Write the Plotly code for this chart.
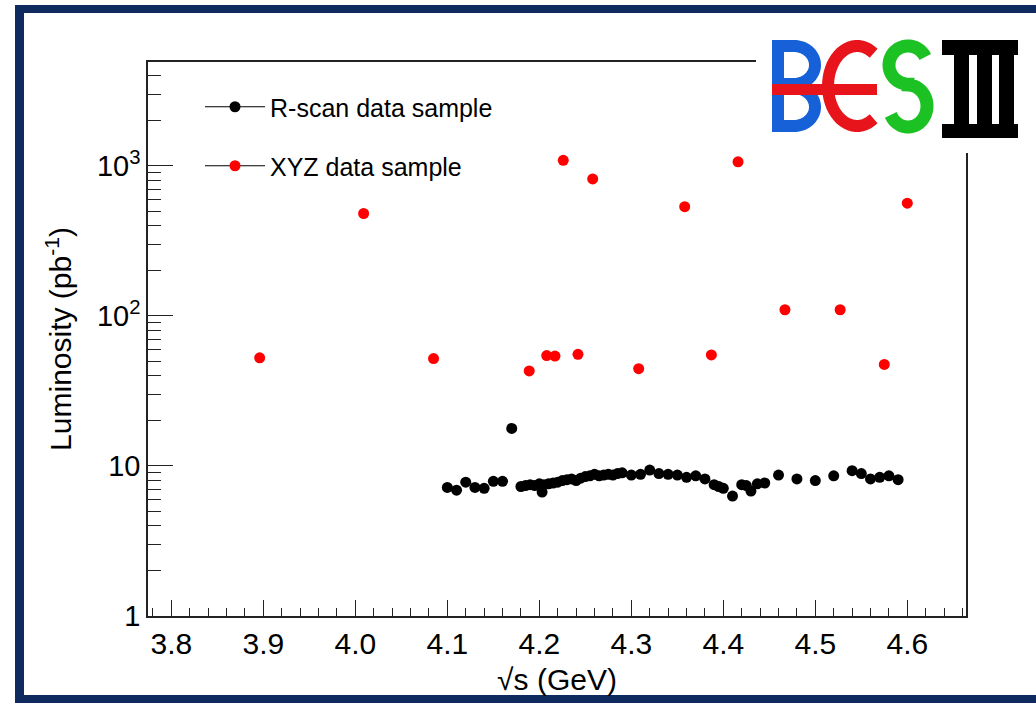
import math
import plotly.graph_objects as go

# ---------------- data ----------------
xyz_energy = [3.896, 4.009, 4.085, 4.189, 4.208, 4.217, 4.226, 4.242, 4.258, 4.308,
              4.358, 4.387, 4.416, 4.467, 4.527, 4.575, 4.600]
xyz_lumi = [52.6, 482, 52.0, 43.0, 54.5, 54.0, 1090, 55.5, 820, 44.5,
            535, 55.0, 1065, 110, 110, 47.5, 565]

rscan_energy = [4.100, 4.110, 4.120, 4.130, 4.140, 4.150, 4.160, 4.170,
                4.180, 4.185, 4.190, 4.195, 4.200, 4.203, 4.205, 4.210, 4.215, 4.220,
                4.225, 4.230, 4.235, 4.240, 4.245, 4.250, 4.255, 4.260, 4.265, 4.270,
                4.275, 4.280, 4.285, 4.290, 4.300, 4.310, 4.320, 4.330, 4.340, 4.350,
                4.360, 4.370, 4.380, 4.390, 4.395, 4.400, 4.410, 4.420, 4.425, 4.430,
                4.437, 4.445, 4.460, 4.480, 4.500, 4.520, 4.540, 4.550, 4.560, 4.570,
                4.580, 4.590]
rscan_lumi = [7.2, 6.9, 7.8, 7.2, 7.1, 7.9, 7.9, 17.8,
              7.3, 7.4, 7.5, 7.4, 7.6, 6.7, 7.5, 7.6, 7.7, 7.8,
              8.0, 8.1, 8.2, 8.0, 8.3, 8.5, 8.6, 8.8, 8.6, 8.7,
              8.8, 8.7, 8.9, 9.0, 8.7, 8.8, 9.4, 8.9, 8.8, 8.7,
              8.4, 8.6, 8.2, 7.5, 7.3, 7.1, 6.3, 7.5, 7.4, 6.8,
              7.6, 7.7, 8.7, 8.2, 8.0, 8.6, 9.3, 8.9, 8.2, 8.4,
              8.6, 8.1]

series_names = ["R-scan data sample", "XYZ data sample"]
x_tick_labels = ["3.8", "3.9", "4.0", "4.1", "4.2", "4.3", "4.4", "4.5", "4.6"]
x_tick_values = [3.8, 3.9, 4.0, 4.1, 4.2, 4.3, 4.4, 4.5, 4.6]
y_tick_values = [1, 10, 100, 1000]
y_tick_labels = ["1", "10", "10<sup>2</sup>", "10<sup>3</sup>"]

# ---------------- geometry helpers (pixel -> paper) ----------------
W, H = 1036, 707
L_PX, R_PX, T_PX, B_PX = 148, 966, 62, 616
PW, PH = R_PX - L_PX, B_PX - T_PX


def px(x):
    return (x - L_PX) / PW


def py(y):
    return (B_PX - y) / PH


def rect(x0, y0, x1, y1, color):
    return dict(type="rect", xref="paper", yref="paper", layer="above",
                x0=px(x0), x1=px(x1), y0=py(y1), y1=py(y0),
                fillcolor=color, line=dict(width=0))


def poly(points, color, width):
    d = "M " + " L ".join(f"{px(a):.5f},{py(b):.5f}" for a, b in points)
    return dict(type="path", xref="paper", yref="paper", layer="above", path=d,
                line=dict(color=color, width=width), fillcolor="rgba(0,0,0,0)")


def arc(cx, cy, rx, ry, a0, a1, n=40):
    pts = []
    for i in range(n + 1):
        t = math.radians(a0 + (a1 - a0) * i / n)
        pts.append((cx + rx * math.cos(t), cy - ry * math.sin(t)))
    return pts


FONT = "Liberation Sans, Arial, sans-serif"
NAVY = "#0f2a5f"
BLUE = "#1660d8"
RED = "#e8141c"
GREEN = "#1cc224"

fig = go.Figure()

# data traces
fig.add_trace(go.Scatter(x=rscan_energy, y=rscan_lumi, mode="markers",
                         marker=dict(color="black", size=11), showlegend=False,
                         name=series_names[0]))
fig.add_trace(go.Scatter(x=xyz_energy, y=xyz_lumi, mode="markers",
                         marker=dict(color="#ff0000", size=11), showlegend=False,
                         name=series_names[1]))
# legend entries (ROOT style: line + marker)
fig.add_trace(go.Scatter(x=[None], y=[None], mode="lines+markers", name=series_names[0],
                         line=dict(color="black", width=1.2),
                         marker=dict(color="black", size=11), legend="legend"))
fig.add_trace(go.Scatter(x=[None], y=[None], mode="lines+markers", name=series_names[1],
                         line=dict(color="black", width=1.2),
                         marker=dict(color="#ff0000", size=11), legend="legend2"))

shapes = []
# navy slide frame
shapes.append(rect(15, 5, 1036, 13, NAVY))
shapes.append(rect(15, 5, 24, 703, NAVY))
shapes.append(rect(15, 695, 1036, 703, NAVY))
# white box behind logo
shapes.append(rect(756, 14, 1036, 153, "white"))
# B
shapes.append(rect(772, 40, 784, 132, BLUE))
shapes.append(poly([(778, 46), (794, 46)] + arc(794, 65, 21, 19, 90, -90) + [(778, 84)], BLUE, 12))
shapes.append(poly([(778, 88), (794, 88)] + arc(794, 107, 21, 19, 90, -90) + [(778, 126)], BLUE, 12))
# red C-like E with bar
shapes.append(poly(arc(857, 86, 29, 40, 55, 305), RED, 12))
shapes.append(rect(772, 84, 877, 95, RED))
# green S
shapes.append(poly(arc(908, 65, 19, 19, 25, 270) + arc(908, 106, 19, 21, 90, -155), GREEN, 13))
# black III
shapes.append(rect(942, 40, 1018, 55, "black"))
shapes.append(rect(942, 124, 1018, 138, "black"))
shapes.append(rect(954, 50, 969, 130, "black"))
shapes.append(rect(977, 50, 992, 130, "black"))
shapes.append(rect(999, 50, 1014, 130, "black"))

minor_y = [m * 10 ** e for e in range(0, 4) for m in range(2, 10) if m * 10 ** e < 5000]

fig.update_layout(
    width=W, height=H,
    margin=dict(l=L_PX, r=W - R_PX, t=T_PX, b=H - B_PX, pad=0),
    paper_bgcolor="white", plot_bgcolor="white",
    font=dict(family=FONT, color="black", size=28),
    shapes=shapes,
    showlegend=True,
    legend=dict(x=px(200), y=py(107), xanchor="left", yanchor="middle",
                bgcolor="rgba(0,0,0,0)", font=dict(size=25, family=FONT), itemwidth=60),
    legend2=dict(x=px(200), y=py(166), xanchor="left", yanchor="middle",
                 bgcolor="rgba(0,0,0,0)", font=dict(size=25, family=FONT), itemwidth=60),
    xaxis=dict(range=[3.7746, 4.6638], tickmode="array", tickvals=x_tick_values,
               ticktext=x_tick_labels, ticks="inside", ticklen=16, tickwidth=1,
               tickcolor="#222", showline=True, linecolor="#222", linewidth=1.5,
               mirror=True, showgrid=False, zeroline=False,
               tickfont=dict(size=30, family=FONT),
               minor=dict(dtick=0.02, tick0=3.8, ticks="inside", ticklen=8,
                          tickcolor="#222", showgrid=False),
               title=dict(text="√s (GeV)", font=dict(size=30, family=FONT), standoff=10)),
    yaxis=dict(type="log", range=[0, 3.693], tickmode="array", tickvals=y_tick_values,
               ticktext=y_tick_labels, ticks="inside", ticklen=25, tickwidth=1,
               tickcolor="#222", showline=True, linecolor="#222", linewidth=1.5,
               mirror=True, showgrid=False, zeroline=False,
               tickfont=dict(size=29, family=FONT),
               minor=dict(tickmode="array", tickvals=minor_y, ticks="inside", ticklen=13,
                          tickcolor="#222", showgrid=False),
               title=dict(text="Luminosity (pb<sup>-1</sup>)", font=dict(size=30, family=FONT),
                          standoff=16)),
)

fig.write_html("out.html")
